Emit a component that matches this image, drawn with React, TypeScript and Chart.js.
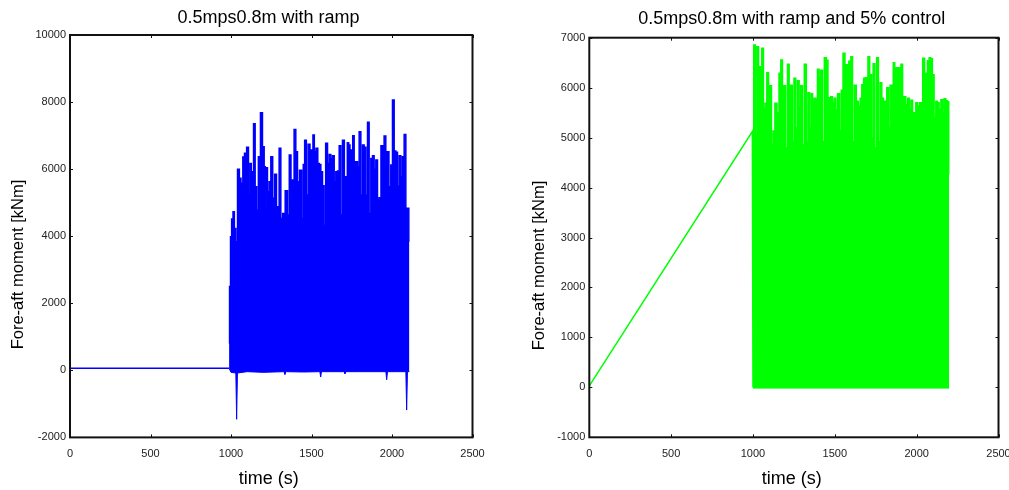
import React, { useEffect, useRef } from "react";
import { Chart, registerables } from "chart.js";

Chart.register(...registerables);

// ---------- text ----------
const leftTitle = "0.5mps0.8m with ramp";
const rightTitle = "0.5mps0.8m with ramp and 5% control";
const xLabel = "time (s)";
const yLabel = "Fore-aft moment [kNm]";

// ---------- tick values ----------
const xTicks = [0, 500, 1000, 1500, 2000, 2500];
const leftYTicks = [-2000, 0, 2000, 4000, 6000, 8000, 10000];
const rightYTicks = [-1000, 0, 1000, 2000, 3000, 4000, 5000, 6000, 7000];

// ---------- left panel (blue) ----------
const leftBaseT = [0, 988];
const leftBaseV = [60, 60];

const leftUpperT = [988, 994, 1000, 1008, 1017, 1025, 1035, 1046, 1058, 1066, 1070, 1077, 1091, 1103, 1114, 1122, 1130, 1135, 1145, 1155, 1164, 1176, 1190, 1201, 1211, 1215, 1221, 1232, 1242, 1253, 1265, 1277, 1288, 1294, 1304, 1315, 1327, 1346, 1356, 1368, 1377, 1387, 1397, 1408, 1418, 1433, 1445, 1453, 1462, 1474, 1484, 1497, 1505, 1513, 1522, 1534, 1544, 1553, 1563, 1574, 1582, 1594, 1605, 1615, 1625, 1636, 1646, 1656, 1667, 1677, 1687, 1698, 1710, 1718, 1727, 1735, 1743, 1752, 1760, 1770, 1781, 1791, 1801, 1812, 1822, 1832, 1843, 1853, 1863, 1874, 1884, 1894, 1905, 1915, 1925, 1938, 1946, 1956, 1967, 1975, 1987, 1998, 2008, 2019, 2029, 2039, 2050, 2060, 2070, 2081, 2091, 2101, 2108];
const leftUpperV = [800, 2500, 3985, 4510, 4730, 4230, 3835, 6000, 5725, 5030, 5575, 6360, 6470, 6650, 5230, 6170, 5920, 4900, 7350, 5475, 4780, 6370, 7680, 6670, 6070, 4830, 6040, 5325, 5625, 6370, 5130, 5850, 4330, 4880, 6620, 4530, 4680, 5355, 4630, 6420, 5030, 5675, 7185, 6520, 5625, 5970, 4530, 6140, 6865, 5230, 6740, 6570, 6400, 7015, 6520, 6620, 6170, 6140, 5920, 5505, 4330, 6770, 6170, 6440, 6300, 6400, 5625, 5920, 5945, 6700, 4630, 6865, 5775, 5375, 6790, 6720, 6570, 5325, 6995, 6220, 6220, 6070, 7115, 5230, 6720, 6650, 5230, 7395, 4680, 6320, 6400, 6000, 6270, 5080, 5150, 6700, 6650, 6985, 5970, 6520, 5475, 6120, 8060, 6540, 6500, 5500, 6400, 5775, 6370, 7035, 4830, 4830, 3850];

const leftLowerT = [988, 1000, 1030, 1035, 1040, 1100, 1200, 1330, 1335, 1340, 1450, 1552, 1557, 1562, 1703, 1708, 1713, 1800, 1962, 1967, 1972, 2086, 2091, 2096, 2108];
const leftLowerV = [60, -60, -80, -1460, -80, -40, -60, -40, -120, -40, -50, -40, -200, -40, -40, -100, -40, -40, -40, -280, -40, -40, -1185, -40, -40];

// ---------- right panel (green) ----------
const rightRampT = [0, 996, 1000];
const rightRampV = [30, 5120, 0];

const rightUpperT = [999, 1010, 1018, 1029, 1039, 1049, 1059, 1069, 1079, 1090, 1100, 1108, 1118, 1128, 1140, 1153, 1165, 1175, 1185, 1193, 1206, 1216, 1226, 1234, 1246, 1255, 1267, 1277, 1287, 1297, 1307, 1320, 1332, 1340, 1352, 1360, 1368, 1379, 1389, 1399, 1409, 1419, 1430, 1442, 1454, 1462, 1470, 1480, 1491, 1501, 1511, 1523, 1535, 1544, 1556, 1568, 1578, 1593, 1603, 1613, 1625, 1637, 1650, 1660, 1670, 1682, 1690, 1698, 1707, 1719, 1729, 1739, 1751, 1761, 1772, 1782, 1792, 1802, 1812, 1823, 1833, 1843, 1853, 1861, 1871, 1878, 1888, 1898, 1910, 1918, 1928, 1939, 1951, 1959, 1971, 1979, 1990, 2000, 2010, 2024, 2032, 2042, 2055, 2061, 2071, 2081, 2091, 2101, 2112, 2122, 2132, 2142, 2154, 2163, 2173, 2183, 2193, 2199];
const rightUpperV = [4285, 6855, 5000, 6820, 6420, 6420, 6790, 5580, 5690, 6300, 4100, 6040, 4850, 5130, 5690, 5500, 6290, 6555, 5590, 6040, 4790, 6470, 5180, 6050, 4920, 6190, 5190, 6140, 5630, 6040, 4850, 6470, 4920, 5900, 5190, 5880, 5630, 5790, 5760, 6370, 6200, 6350, 4920, 6600, 6550, 4920, 5800, 5820, 5690, 5790, 5560, 5880, 5130, 5950, 6690, 6460, 6460, 6530, 6620, 4920, 6050, 5730, 5630, 5790, 6060, 6190, 6200, 5130, 6620, 6260, 4990, 6480, 4790, 6600, 4920, 6100, 5790, 5730, 5730, 6000, 5190, 6050, 5160, 6500, 4720, 6400, 6400, 6400, 6470, 4990, 5820, 5660, 5790, 5560, 5750, 5500, 5500, 5700, 5630, 5700, 5250, 6590, 6290, 4920, 6540, 6600, 6580, 6260, 5400, 5730, 5700, 5570, 5760, 5500, 5780, 5740, 5720, 4280];

const rightLowerT = [999, 2199];
const rightLowerV = [-15, -15];

const FONT = "'Liberation Sans', Arial, Helvetica, sans-serif";

const pts = (t: number[], v: number[]) => t.map((x, i) => ({ x, y: v[i] }));

const framePlugin = {
  id: "frame",
  afterDatasetsDraw(chart: any, _args: any, opts: any) {
    const { ctx, chartArea: a, scales } = chart;
    ctx.save();
    ctx.strokeStyle = "#111";
    ctx.lineWidth = 1;
    const L = 3;
    ctx.beginPath();
    scales.x.ticks.forEach((t: any) => {
      const px = Math.round(scales.x.getPixelForValue(t.value)) + 0.5;
      ctx.moveTo(px, a.bottom);
      ctx.lineTo(px, a.bottom - L);
      ctx.moveTo(px, a.top);
      ctx.lineTo(px, a.top + L);
    });
    scales.y.ticks.forEach((t: any) => {
      const py = Math.round(scales.y.getPixelForValue(t.value)) + 0.5;
      ctx.moveTo(a.left, py);
      ctx.lineTo(a.left + L, py);
      ctx.moveTo(a.right, py);
      ctx.lineTo(a.right - L, py);
    });
    ctx.stroke();
    ctx.lineWidth = 2;
    ctx.strokeRect(a.left, a.top, a.right - a.left, a.bottom - a.top);

    ctx.fillStyle = "#000";
    ctx.textAlign = "center";
    ctx.textBaseline = "alphabetic";
    ctx.font = `18px ${FONT}`;
    ctx.fillText(opts.title, opts.titleX, opts.titleY);
    ctx.fillText(opts.xTitle, opts.xTitleX, opts.xTitleY);
    ctx.translate(opts.yTitleX, opts.yTitleY);
    ctx.rotate(-Math.PI / 2);
    ctx.font = `16.5px ${FONT}`;
    ctx.textBaseline = "middle";
    ctx.fillText(opts.yTitle, 0, 0);
    ctx.restore();
  },
};

type PanelProps = {
  width: number;
  left: number;
  color: string;
  baseT: number[];
  baseV: number[];
  upT: number[];
  upV: number[];
  loT: number[];
  loV: number[];
  yMin: number;
  yMax: number;
  yTicks: number[];
  yAxisWidth: number;
  padTop: number;
  padRight: number;
  padBottom: number;
  text: any;
};

function Panel(p: PanelProps) {
  const ref = useRef<HTMLCanvasElement>(null);
  useEffect(() => {
    const chart = new Chart(ref.current as HTMLCanvasElement, {
      type: "line",
      data: {
        datasets: [
          {
            data: pts(p.baseT, p.baseV),
            borderColor: p.color,
            borderWidth: 1.5,
            pointRadius: 0,
            fill: false,
          },
          {
            data: pts(p.upT, p.upV),
            borderColor: p.color,
            backgroundColor: p.color,
            borderWidth: 1.5,
            pointRadius: 0,
            stepped: "middle",
            fill: "+1",
          },
          {
            data: pts(p.loT, p.loV),
            borderColor: p.color,
            borderWidth: 1,
            pointRadius: 0,
            fill: false,
          },
        ],
      } as any,
      options: {
        animation: false,
        responsive: false,
        events: [],
        layout: { padding: { left: 0, top: p.padTop, right: p.padRight, bottom: p.padBottom } },
        plugins: {
          legend: { display: false },
          title: { display: false },
          tooltip: { enabled: false },
          frame: p.text,
        } as any,
        scales: {
          x: {
            type: "linear",
            min: 0,
            max: 2500,
            grid: { display: false, drawTicks: false },
            border: { display: false },
            afterBuildTicks: (s: any) => {
              s.ticks = xTicks.map((v) => ({ value: v }));
            },
            afterFit: (s: any) => {
              s.height = 30;
              s.paddingLeft = 0;
              s.paddingRight = 0;
            },
            ticks: {
              padding: 10,
              color: "#222",
              font: { family: FONT, size: 11 },
              maxRotation: 0,
              autoSkip: false,
              callback: (v: any) => String(v),
            },
          },
          y: {
            type: "linear",
            min: p.yMin,
            max: p.yMax,
            grid: { display: false, drawTicks: false },
            border: { display: false },
            afterBuildTicks: (s: any) => {
              s.ticks = p.yTicks.map((v) => ({ value: v }));
            },
            afterFit: (s: any) => {
              s.width = p.yAxisWidth;
              s.paddingTop = 0;
              s.paddingBottom = 0;
            },
            ticks: {
              padding: 4,
              color: "#222",
              font: { family: FONT, size: 11 },
              autoSkip: false,
              callback: (v: any) => String(v),
            },
          },
        },
      } as any,
      plugins: [framePlugin],
    });
    return () => chart.destroy();
  }, []);
  return (
    <canvas
      ref={ref}
      width={p.width}
      height={490}
      style={{ position: "absolute", left: p.left, top: 0, width: p.width, height: 490 }}
    />
  );
}

export default function App() {
  return (
    <div style={{ position: "fixed", left: 0, top: 0, width: 1009, height: 490, background: "#fff", overflow: "hidden" }}>
      <Panel
        width={500}
        left={0}
        color="#0000ff"
        baseT={leftBaseT}
        baseV={leftBaseV}
        upT={leftUpperT}
        upV={leftUpperV}
        loT={leftLowerT}
        loV={leftLowerV}
        yMin={-2000}
        yMax={10000}
        yTicks={leftYTicks}
        yAxisWidth={70}
        padTop={35}
        padRight={27.5}
        padBottom={22.6}
        text={{
          title: leftTitle,
          titleX: 268.5,
          titleY: 22.5,
          xTitle: xLabel,
          xTitleX: 268.7,
          xTitleY: 484,
          yTitle: yLabel,
          yTitleX: 18.5,
          yTitleY: 264.5,
        }}
      />
      <Panel
        width={509}
        left={500}
        color="#00ff00"
        baseT={rightRampT}
        baseV={rightRampV}
        upT={rightUpperT}
        upV={rightUpperV}
        loT={rightLowerT}
        loV={rightLowerV}
        yMin={-1000}
        yMax={7000}
        yTicks={rightYTicks}
        yAxisWidth={89.3}
        padTop={37.7}
        padRight={10.5}
        padBottom={22.7}
        text={{
          title: rightTitle,
          titleX: 291.8,
          titleY: 23.5,
          xTitle: xLabel,
          xTitleX: 291.8,
          xTitleY: 484,
          yTitle: yLabel,
          yTitleX: 39,
          yTitleY: 265.5,
        }}
      />
    </div>
  );
}
